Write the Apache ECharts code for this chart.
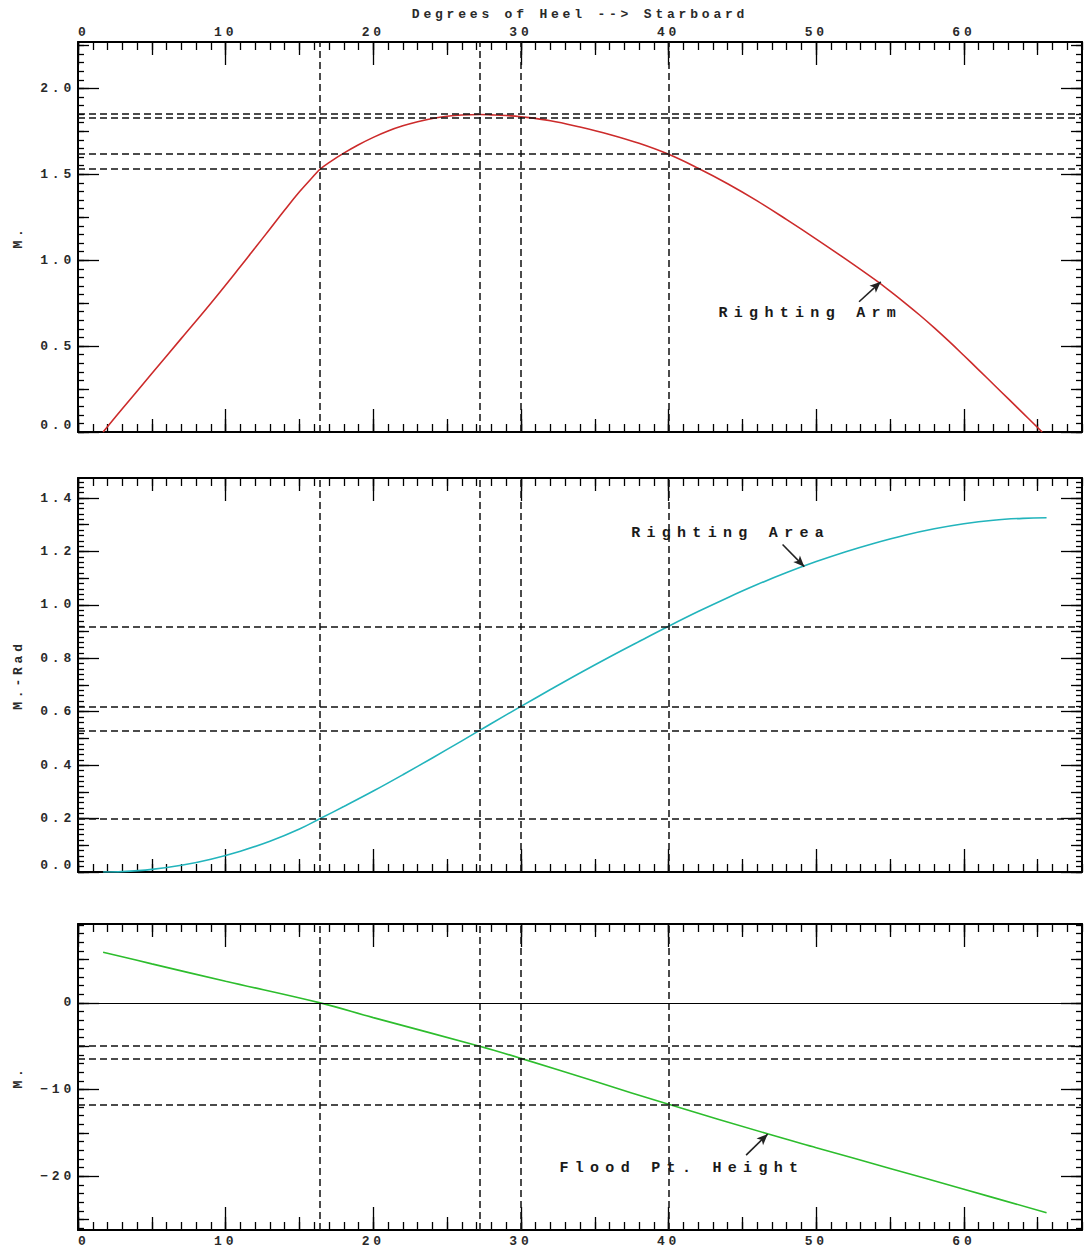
<!DOCTYPE html>
<html>
<head>
<meta charset="utf-8">
<script src="https://cdn.jsdelivr.net/npm/echarts@6/dist/echarts.min.js"></script>
<style>
html, body { margin: 0; padding: 0; background: #fff; }
#chart { width: 1084px; height: 1250px; letter-spacing: 3.8px; }
#chart text[style*="15px"] { letter-spacing: 6.3px; }
</style>
</head>
<body>
<div id="chart"></div>
<script>
// ---------------- data ----------------
const armHeel   = [1.7, 3, 5, 7, 9, 11, 12, 13, 14, 15, 16, 16.4, 17, 18, 19, 20, 21, 22, 23, 24, 25, 26, 27.2, 28, 29, 30, 32, 34, 36, 38, 40, 42, 44, 46, 48, 50, 52, 54, 55, 56, 57, 58, 59, 60, 61, 62, 63, 64, 65.3];
const armValues = [0, 0.135, 0.34, 0.545, 0.75, 0.963, 1.072, 1.182, 1.292, 1.398, 1.494, 1.53, 1.568, 1.623, 1.672, 1.715, 1.752, 1.782, 1.806, 1.825, 1.838, 1.845, 1.848, 1.846, 1.842, 1.835, 1.812, 1.775, 1.732, 1.68, 1.616, 1.535, 1.445, 1.345, 1.236, 1.123, 1.006, 0.885, 0.82, 0.752, 0.681, 0.606, 0.527, 0.445, 0.362, 0.278, 0.194, 0.11, 0];

const areaHeel   = [1.7, 3, 5, 7, 9, 11, 13, 15, 16.4, 18, 20, 22, 24, 26, 27.2, 28, 30, 32, 34, 36, 38, 40, 42, 44, 46, 48, 50, 52, 54, 56, 58, 60, 62, 64, 65.6];
const areaValues = [0, 0.0015, 0.0098, 0.025, 0.048, 0.078, 0.115, 0.161, 0.2, 0.245, 0.303, 0.364, 0.427, 0.491, 0.53, 0.556, 0.62, 0.683, 0.745, 0.805, 0.863, 0.92, 0.975, 1.027, 1.076, 1.121, 1.162, 1.199, 1.232, 1.261, 1.285, 1.304, 1.317, 1.324, 1.326];

const floodHeel   = [1.7, 5, 10, 16.4, 20, 27.2, 30, 35, 40, 46.7, 50, 55, 60, 65.6];
const floodValues = [5.85, 4.5, 2.5, 0, -1.7, -5.0, -6.4, -9.05, -11.7, -15.1, -16.7, -19.1, -21.5, -24.2];

const criticalHeel = [16.4, 27.2, 30, 40];
const armMarks   = [1.53, 1.848, 1.835, 1.616];
const areaMarks  = [0.2, 0.53, 0.62, 0.92];
const floodMarks = [-5.0, -6.4, -11.7];

const xTickLabels     = [0, 10, 20, 30, 40, 50, 60];
const armTickLabels   = [0, 0.5, 1.0, 1.5, 2.0];
const areaTickLabels  = [0, 0.2, 0.4, 0.6, 0.8, 1.0, 1.2, 1.4];
const floodTickLabels = [-20, -10, 0];

const xTitle = 'Degrees of Heel --> Starboard';
const yNames = ['M.', 'M.-Rad', 'M.'];
const annotations = ['Righting Arm', 'Righting Area', 'Flood Pt. Height'];

// ---------------- helpers ----------------
const FONT = 'Liberation Mono';
const TXT = '#2a2a2a';

function ticks(min, max, step) {
  const out = [];
  const start = Math.ceil(min / step - 1e-9);
  for (let k = start; k * step <= max + 1e-9; k++) out.push(+(k * step).toFixed(4));
  return out;
}
function pairs(xs, ys) { return xs.map((x, i) => [x, ys[i]]); }

const xAxes = [], yAxes = [];
function addSide(list, gridIndex, position, min, max, steps, lens, label, name) {
  const startIdx = list.length;
  for (let i = 0; i < 3; i++) {
    const ax = {
      type: 'value', gridIndex: gridIndex, position: position, min: min, max: max,
      axisLine: { show: i === 0, onZero: false, lineStyle: { color: '#000', width: 2 } },
      axisTick: { show: true, inside: true, length: lens[i], customValues: ticks(min, max, steps[i]),
                  lineStyle: { color: '#000', width: 1.3 } },
      axisLabel: { show: false },
      splitLine: { show: false },
      minorTick: { show: false },
      axisPointer: { show: false },
      nameMoveOverlap: false
    };
    if (i === 2 && label) {
      ax.axisLabel = Object.assign({ show: true, customValues: label.values, color: TXT,
        fontFamily: FONT, fontSize: 13, fontWeight: 'bold' }, label.opts);
    }
    if (i === 2 && name) Object.assign(ax, name);
    list.push(ax);
  }
  return startIdx;
}
const nameStyle = { color: TXT, fontFamily: FONT, fontSize: 13, fontWeight: 'bold' };
const X_STEPS = [1, 5, 10], X_LENS = [8, 13, 23], Y_LENS = [6, 11, 21];
const X_MAX = 68;
const fmt1 = v => v.toFixed(1);
const fmtInt = v => (v < 0 ? '\u2212' + Math.abs(v) : String(v));

// grid 0 : Righting Arm
const g0x = addSide(xAxes, 0, 'bottom', 0, X_MAX, X_STEPS, X_LENS, null);
addSide(xAxes, 0, 'top', 0, X_MAX, X_STEPS, X_LENS,
  { values: xTickLabels, opts: { formatter: v => String(v), margin: 3, alignMinLabel: 'left' } },
  { name: xTitle, nameLocation: 'middle', nameGap: 21, nameTextStyle: nameStyle });
const g0y = addSide(yAxes, 0, 'left', 0, 2.27, [0.05, 0.25, 0.5], Y_LENS,
  { values: armTickLabels, opts: { formatter: fmt1, margin: 3, verticalAlignMinLabel: 'bottom' } },
  { name: yNames[0], nameLocation: 'middle', nameGap: 53, nameTextStyle: nameStyle });
addSide(yAxes, 0, 'right', 0, 2.27, [0.05, 0.25, 0.5], Y_LENS, null);

// grid 1 : Righting Area
const g1x = addSide(xAxes, 1, 'bottom', 0, X_MAX, X_STEPS, X_LENS, null);
addSide(xAxes, 1, 'top', 0, X_MAX, X_STEPS, X_LENS, null);
const g1y = addSide(yAxes, 1, 'left', 0, 1.475, [0.02, 0.1, 0.2], Y_LENS,
  { values: areaTickLabels, opts: { formatter: fmt1, margin: 3, verticalAlignMinLabel: 'bottom' } },
  { name: yNames[1], nameLocation: 'middle', nameGap: 53, nameTextStyle: nameStyle });
addSide(yAxes, 1, 'right', 0, 1.475, [0.02, 0.1, 0.2], Y_LENS, null);

// grid 2 : Flood point height
const g2x = addSide(xAxes, 2, 'bottom', 0, X_MAX, X_STEPS, X_LENS,
  { values: xTickLabels, opts: { formatter: v => String(v), margin: 5, alignMinLabel: 'left' } });
addSide(xAxes, 2, 'top', 0, X_MAX, X_STEPS, X_LENS, null);
const g2y = addSide(yAxes, 2, 'left', -26.2, 9.1, [1, 5, 10], Y_LENS,
  { values: floodTickLabels, opts: { formatter: fmtInt, margin: 3 } },
  { name: yNames[2], nameLocation: 'middle', nameGap: 53, nameTextStyle: nameStyle });
addSide(yAxes, 2, 'right', -26.2, 9.1, [1, 5, 10], Y_LENS, null);

const dashStyle = { type: [7, 4], color: '#111', width: 1.5 };
const arrowLine = { type: 'solid', color: '#222', width: 1.6 };
function marks(hvals, arrowFrom, arrowTo, extra) {
  const data = criticalHeel.map(v => ({ xAxis: v }))
    .concat(hvals.map(v => ({ yAxis: v })))
    .concat(extra || [])
    .concat([[{ coord: arrowFrom, symbol: 'none', lineStyle: arrowLine },
              { coord: arrowTo, symbol: 'arrow', symbolSize: [7, 11] }]]);
  return { silent: true, animation: false, symbol: ['none', 'none'], label: { show: false },
           lineStyle: dashStyle, emphasis: { disabled: true }, data: data };
}
function textMark(coord, text) {
  return { silent: true, animation: false, symbol: 'circle', symbolSize: 1,
    itemStyle: { color: 'rgba(0,0,0,0)' },
    label: { show: true, position: 'inside', formatter: text, color: '#1a1a1a',
             fontFamily: FONT, fontSize: 15, fontWeight: 'bold' },
    data: [{ coord: coord }] };
}

const option = {
  animation: false,
  backgroundColor: '#fff',
  grid: [
    { left: 78, right: 2, top: 42, height: 390, outerBoundsMode: 'none' },
    { left: 78, right: 2, top: 478, height: 394, outerBoundsMode: 'none' },
    { left: 78, right: 2, top: 924, height: 306, outerBoundsMode: 'none' }
  ],
  xAxis: xAxes,
  yAxis: yAxes,
  series: [
    {
      name: annotations[0], type: 'line', xAxisIndex: g0x, yAxisIndex: g0y,
      data: pairs(armHeel, armValues), smooth: 0.4, showSymbol: false,
      lineStyle: { color: '#cc2b2b', width: 1.6 }, itemStyle: { color: '#cc2b2b' },
      markLine: marks(armMarks, [52.9, 0.758], [54.37, 0.874]),
      markPoint: textMark([49.6, 0.69], annotations[0])
    },
    {
      name: annotations[1], type: 'line', xAxisIndex: g1x, yAxisIndex: g1y,
      data: pairs(areaHeel, areaValues), smooth: 0.4, showSymbol: false,
      lineStyle: { color: '#22b4bc', width: 1.6 }, itemStyle: { color: '#22b4bc' },
      markLine: marks(areaMarks, [47.72, 1.226], [49.19, 1.143]),
      markPoint: textMark([44.2, 1.267], annotations[1])
    },
    {
      name: annotations[2], type: 'line', xAxisIndex: g2x, yAxisIndex: g2y,
      data: pairs(floodHeel, floodValues), smooth: 0.4, showSymbol: false,
      lineStyle: { color: '#2dbd2d', width: 1.6 }, itemStyle: { color: '#2dbd2d' },
      markLine: marks(floodMarks, [45.25, -17.57], [46.71, -15.14],
        [{ yAxis: 0, lineStyle: { type: 'solid', color: '#000', width: 1.2 } }]),
      markPoint: textMark([40.9, -19.1], annotations[2])
    }
  ]
};

const chart = echarts.init(document.getElementById('chart'), null, { renderer: 'svg' });
chart.setOption(option);
</script>
</body>
</html>
